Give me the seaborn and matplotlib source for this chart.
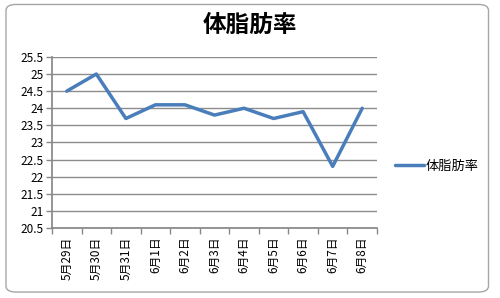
import matplotlib
matplotlib.use("Agg")
import matplotlib.pyplot as plt
import seaborn as sns
import pandas as pd
from matplotlib.patches import FancyBboxPatch

dates = ["5月29日", "5月30日", "5月31日", "6月1日", "6月2日", "6月3日",
         "6月4日", "6月5日", "6月6日", "6月7日", "6月8日"]
values = [24.5, 25.0, 23.7, 24.1, 24.1, 23.8, 24.0, 23.7, 23.9, 22.3, 24.0]
yticks = [20.5, 21, 21.5, 22, 22.5, 23, 23.5, 24, 24.5, 25, 25.5]
title = "体脂肪率"
series_name = "体脂肪率"

sns.set_theme(style="white")
plt.rcParams['font.family'] = ['Noto Sans CJK JP', 'DejaVu Sans']
plt.rcParams['text.color'] = 'black'
plt.rcParams['xtick.color'] = 'black'
plt.rcParams['ytick.color'] = 'black'

df = pd.DataFrame({"date": dates, "value": values})

fig = plt.figure(figsize=(5.0, 2.98), dpi=100)
fig.patch.set_facecolor("white")
border = FancyBboxPatch((0.012, 0.02), 0.965, 0.965, boxstyle="round,pad=0,rounding_size=0.02",
                        transform=fig.transFigure, fill=False, edgecolor="#a6a6a6", lw=1)
fig.add_artist(border)

ax = fig.add_axes([0.104, 0.235, 0.65, 0.574])
sns.lineplot(data=df, x="date", y="value", sort=False, ax=ax, color="#4A7EBB",
             linewidth=2.5, label=series_name)

ax.set_ylim(20.5, 25.5)
ax.set_xlim(-0.5, len(dates) - 0.5)
ax.set_yticks(yticks)
ax.set_yticklabels([f"{v:g}" for v in yticks], fontsize=8.5)
ax.set_xticks(range(len(dates)))
ax.set_xticklabels(dates, rotation=90, fontsize=8.5)
ax.set_xticks([i - 0.5 for i in range(len(dates) + 1)], minor=True)
ax.tick_params(axis="x", which="major", length=0, pad=6, colors="black")
ax.tick_params(axis="x", which="minor", length=4, width=1, color="#888888", bottom=True)
ax.tick_params(axis="y", length=4, width=1, color="#888888", labelcolor="black", left=True, pad=2)
ax.grid(axis="y", color="#8c8c8c", linewidth=1)
ax.set_axisbelow(True)
ax.set_xlabel("")
ax.set_ylabel("")
for s in ["top", "right"]:
    ax.spines[s].set_visible(False)
ax.spines["left"].set_color("#888888")
ax.spines["bottom"].set_color("#888888")

ax.legend(loc="center left", bbox_to_anchor=(1.02, 0.36), frameon=False, fontsize=9.5,
          handlelength=2.2, handletextpad=0.1)

fig.text(0.5, 0.915, title, ha="center", va="center", fontsize=17, fontweight="bold", color="black")

fig.savefig("out.png", dpi=100)
